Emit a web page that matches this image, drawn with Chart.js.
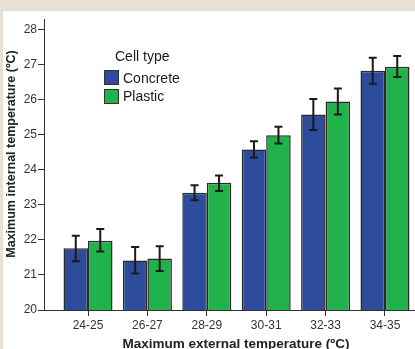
<!DOCTYPE html>
<html>
<head>
<meta charset="utf-8">
<script src="https://cdn.jsdelivr.net/npm/chart.js@4"></script>
<style>
  html, body { margin: 0; padding: 0; }
  body { width: 415px; height: 349px; background: #e8e0d2; overflow: hidden; position: relative;
         font-family: "Liberation Sans", Arial, sans-serif; }
  #panel { position: absolute; left: 3px; top: 11px; width: 412px; height: 338px; background: #fff; overflow: hidden; }
  #panel canvas { position: absolute; left: 0; top: 0; }
  .lg { position: absolute; font-size: 14px; line-height: 16px; color: #1a1a1a; white-space: nowrap; }
  .box { position: absolute; width: 13px; height: 13px; border: 1px solid #333; }
  #ytitle { position: absolute; left: -109px; top: 146px; width: 240px; height: 16px; line-height: 16px;
            text-align: center; font-size: 12.5px; font-weight: bold; color: #222; white-space: nowrap;
            transform: rotate(-90deg); transform-origin: 50% 50%; }
</style>
</head>
<body>
<div id="panel"><canvas id="tempChart" width="425" height="344"></canvas></div>
<div id="ytitle">Maximum internal temperature (ºC)</div>
<div class="lg" style="left:115px; top:48px;">Cell type</div>
<div class="box" style="left:104px; top:70px; background:#2e4c9c;"></div>
<div class="lg" style="left:123px; top:70px;">Concrete</div>
<div class="box" style="left:104px; top:89px; background:#22b24c;"></div>
<div class="lg" style="left:123px; top:88px;">Plastic</div>
<script>
const categories = ['24-25', '26-27', '28-29', '30-31', '32-33', '34-35'];
const yTicks = [20, 21, 22, 23, 24, 25, 26, 27, 28];

const concrete = [21.76, 21.41, 23.35, 24.58, 25.58, 26.83];
const concreteHigh = [22.12, 21.80, 23.56, 24.82, 26.02, 27.20];
const concreteLow = [21.39, 21.04, 23.13, 24.35, 25.14, 26.46];

const plastic = [21.98, 21.47, 23.63, 24.99, 25.95, 26.94];
const plasticHigh = [22.31, 21.82, 23.84, 25.23, 26.32, 27.25];
const plasticLow = [21.67, 21.11, 23.40, 24.75, 25.58, 26.65];

const errorBars = [
    { high: concreteHigh, low: concreteLow },
    { high: plasticHigh, low: plasticLow }
];

const font = '"Liberation Sans", Arial, sans-serif';

// draws the whiskers on top of each bar
const errorBarPlugin = {
    id: 'errorBars',
    afterDatasetsDraw(chart) {
        const ctx = chart.ctx;
        const yScale = chart.scales.y;
        ctx.save();
        ctx.strokeStyle = '#1a1a1a';
        ctx.lineWidth = 2;
        chart.data.datasets.forEach((ds, di) => {
            const meta = chart.getDatasetMeta(di);
            meta.data.forEach((bar, i) => {
                const top = yScale.getPixelForValue(errorBars[di].high[i]);
                const bottom = yScale.getPixelForValue(errorBars[di].low[i]);
                ctx.beginPath();
                ctx.moveTo(bar.x, top);
                ctx.lineTo(bar.x, bottom);
                ctx.moveTo(bar.x - 4, top);
                ctx.lineTo(bar.x + 4, top);
                ctx.moveTo(bar.x - 4, bottom);
                ctx.lineTo(bar.x + 4, bottom);
                ctx.stroke();
            });
        });
        ctx.restore();
    }
};

const ctx = document.getElementById('tempChart');

new Chart(ctx, {
    type: 'bar',
    data: {
        datasets: [{
            label: 'Concrete',
            data: concrete.map((v, i) => ({ x: i, y: v })),
            backgroundColor: '#2e4c9c',
            borderColor: '#2a2a2a',
            borderWidth: 1.5
        }, {
            label: 'Plastic',
            data: plastic.map((v, i) => ({ x: i, y: v })),
            backgroundColor: '#22b24c',
            borderColor: '#2a2a2a',
            borderWidth: 1.5
        }]
    },
    options: {
        responsive: false,
        animation: false,
        barPercentage: 1,
        categoryPercentage: 0.825,
        layout: { padding: 0 },
        plugins: {
            legend: { display: false },
            tooltip: { enabled: false }
        },
        scales: {
            x: {
                type: 'linear',
                offset: false,
                min: -0.741,
                max: 5.724,
                afterBuildTicks: (axis) => {
                    axis.ticks = categories.map((c, i) => ({ value: i }));
                },
                afterFit: (scale) => { scale.height = 45; },
                grid: {
                    offset: false,
                    drawOnChartArea: false,
                    drawTicks: true,
                    tickLength: 6,
                    tickColor: '#333',
                    tickWidth: 1
                },
                border: { color: '#333', width: 1 },
                ticks: {
                    autoSkip: false,
                    maxRotation: 0,
                    padding: 2,
                    color: '#333',
                    font: { family: font, size: 12 },
                    callback: (v) => categories[v]
                },
                title: {
                    display: true,
                    text: 'Maximum external temperature (ºC)',
                    color: '#222',
                    padding: { top: 0, bottom: 3 },
                    font: { family: font, size: 13.5, weight: 'bold' }
                }
            },
            y: {
                min: 20,
                max: 28.3,
                afterBuildTicks: (axis) => {
                    axis.ticks = yTicks.map(v => ({ value: v }));
                },
                afterFit: (scale) => { scale.width = 41; },
                grid: {
                    drawOnChartArea: false,
                    drawTicks: true,
                    tickLength: 6,
                    tickColor: '#333',
                    tickWidth: 1
                },
                border: { color: '#333', width: 1 },
                ticks: {
                    padding: 1,
                    color: '#333',
                    font: { family: font, size: 12 }
                },
                title: { display: false }
            }
        }
    },
    plugins: [errorBarPlugin]
});
</script>
</body>
</html>
